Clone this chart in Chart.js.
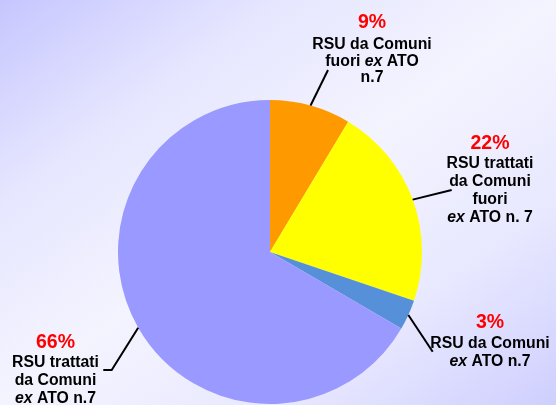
<!DOCTYPE html>
<html>
<head>
<meta charset="utf-8">
<script src="https://cdn.jsdelivr.net/npm/chart.js@4/dist/chart.umd.min.js"></script>
<style>
  html, body { margin: 0; padding: 0; }
  body {
    width: 556px; height: 405px; overflow: hidden;
    background: linear-gradient(to bottom right, #c6c6ff 0%, #e6e6ff 25%, #f4f4ff 50%, #e8e8ff 75%, #cfcfff 100%);
  }
  canvas { display: block; }
</style>
</head>
<body>
<canvas id="c" width="556" height="405"></canvas>
<script>
// ---- data ----
const categories = [
  'RSU da Comuni fuori ex ATO n.7',
  'RSU trattati da Comuni fuori ex ATO n. 7',
  'RSU da Comuni ex ATO n.7',
  'RSU trattati da Comuni ex ATO n.7'
];
const values = [8.6, 21.6, 3.2, 66.6];
const percentLabels = ['9%', '22%', '3%', '66%'];
// label text lines (_x_ = italic run)
const labelLines = [
  ['RSU da Comuni', 'fuori _ex_ ATO', 'n.7'],
  ['RSU trattati', 'da Comuni', 'fuori', '_ex_ ATO n. 7'],
  ['RSU da Comuni', '_ex_ ATO n.7'],
  ['RSU trattati', 'da Comuni', '_ex_ ATO n.7']
];

// ---- styling / layout ----
const colors = ['#ff9900', '#ffff00', '#5690d8', '#9999ff'];
const labelLayout = [
  { cx: 372, pctY: 28.3, lineY: [49.4, 65.9, 82.4], leader: [[328, 70]] },
  { cx: 490, pctY: 149.3, lineY: [168.3, 186.3, 204.3, 222.0], leader: [[451.7, 190]] },
  { cx: 490, pctY: 328.3, lineY: [348.3, 365.8], leader: [[432.7, 351.7]] },
  { cx: 55.5, pctY: 348.3, lineY: [366.7, 384.8, 402.8], leader: [[111.7, 370], [103.3, 370]] }
];
const FONT_FAMILY = '"Liberation Sans", Arial, sans-serif';

function drawRuns(ctx, text, cx, y) {
  const parts = text.split('_');
  const runs = parts.map((t, i) => ({ t, italic: i % 2 === 1 })).filter(r => r.t.length);
  let total = 0;
  runs.forEach(r => {
    ctx.font = (r.italic ? 'italic ' : '') + 'bold 15.8px ' + FONT_FAMILY;
    r.w = ctx.measureText(r.t).width;
    total += r.w;
  });
  let x = cx - total / 2;
  ctx.textAlign = 'left';
  runs.forEach(r => {
    ctx.font = (r.italic ? 'italic ' : '') + 'bold 15.8px ' + FONT_FAMILY;
    ctx.fillText(r.t, x, y);
    x += r.w;
  });
}

const labelPlugin = {
  id: 'pieLabels',
  afterDatasetsDraw(chart) {
    const ctx = chart.ctx;
    const meta = chart.getDatasetMeta(0);
    ctx.save();
    meta.data.forEach((arc, i) => {
      const p = arc.getProps(['x', 'y', 'startAngle', 'endAngle', 'outerRadius'], true);
      const mid = (p.startAngle + p.endAngle) / 2;
      const sx = p.x + Math.cos(mid) * p.outerRadius;
      const sy = p.y + Math.sin(mid) * p.outerRadius;
      const L = labelLayout[i];
      ctx.beginPath();
      ctx.moveTo(sx, sy);
      L.leader.forEach(pt => ctx.lineTo(pt[0], pt[1]));
      ctx.strokeStyle = '#000';
      ctx.lineWidth = 2;
      ctx.stroke();

      ctx.textBaseline = 'alphabetic';
      ctx.fillStyle = '#ff0000';
      ctx.textAlign = 'center';
      ctx.font = 'bold 19.5px ' + FONT_FAMILY;
      ctx.fillText(percentLabels[i], L.cx, L.pctY);

      ctx.fillStyle = '#000000';
      labelLines[i].forEach((line, j) => drawRuns(ctx, line, L.cx, L.lineY[j]));
    });
    ctx.restore();
  }
};

new Chart(document.getElementById('c'), {
  type: 'pie',
  data: {
    labels: categories,
    datasets: [{
      data: values,
      backgroundColor: colors,
      borderWidth: 0
    }]
  },
  options: {
    responsive: false,
    animation: false,
    layout: { padding: { left: 118, right: 134, top: 100, bottom: 1 } },
    plugins: {
      legend: { display: false },
      tooltip: { enabled: false }
    }
  },
  plugins: [labelPlugin]
});
</script>
</body>
</html>
